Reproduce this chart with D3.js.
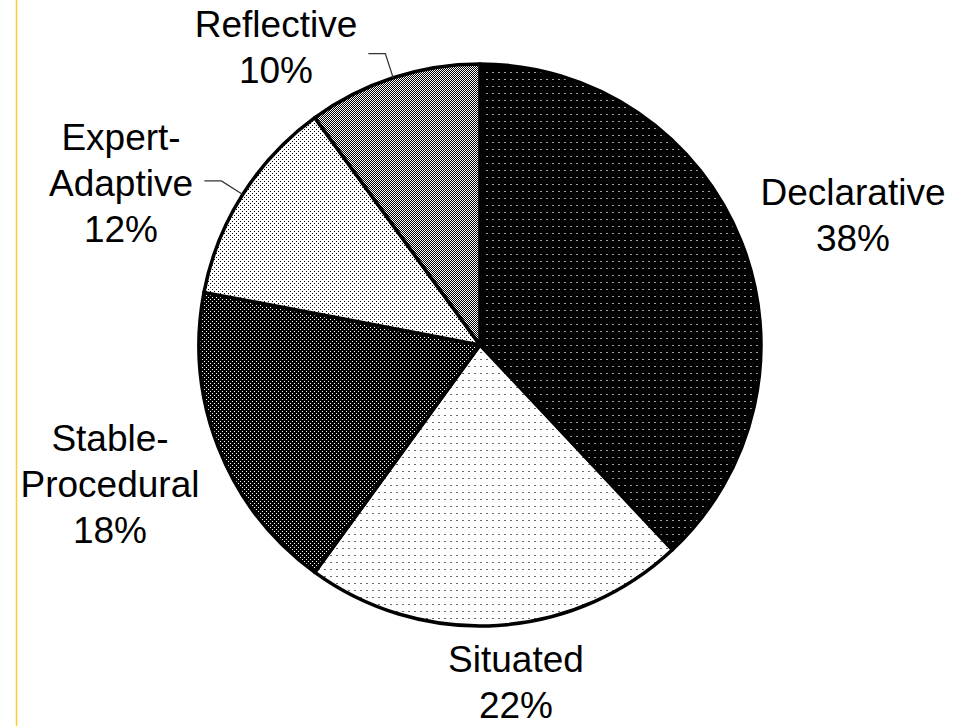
<!DOCTYPE html>
<html>
<head>
<meta charset="utf-8">
<script src="https://cdn.jsdelivr.net/npm/d3@7/dist/d3.min.js"></script>
<style>
  html, body { margin: 0; padding: 0; background: #fff; }
  svg { display: block; }
  text { font-family: "Liberation Sans", Arial, sans-serif; fill: #000; }
</style>
</head>
<body>
<svg id="chart" width="955" height="726"></svg>
<script>
// Knowledge types and their shares (%), clockwise from 12 o'clock
const categories = ["Declarative", "Situated", "Stable-Procedural", "Expert-Adaptive", "Reflective"];
const values = [38, 22, 18, 12, 10];
// How each category name wraps in its label
const labelLines = [["Declarative"], ["Situated"], ["Stable-", "Procedural"], ["Expert-", "Adaptive"], ["Reflective"]];
// Which labels carry a leader line to their slice
const hasLeader = [false, false, false, true, true];

const W = 955, H = 726;
const cx = 480, cy = 345, r = 281;
const fontSize = 37, lineGap = 46;

// Label anchor (first baseline) offsets from the pie centre
const labelOffsets = [[373, -140], [36, 327], [-370, 106], [-359, -195], [-204, -308]];

const svg = d3.select("#chart");
const defs = svg.append("defs");

// Dot / halftone fill patterns, one per slice
function pattern(id, w, h, bg, fg, cells) {
  const p = defs.append("pattern").attr("id", id)
    .attr("patternUnits", "userSpaceOnUse").attr("width", w).attr("height", h);
  p.append("rect").attr("width", w).attr("height", h).attr("fill", bg);
  cells.forEach(([x, y, cw, ch]) => p.append("rect")
    .attr("x", x).attr("y", y).attr("width", cw).attr("height", ch)
    .attr("fill", fg).attr("shape-rendering", "crispEdges"));
  return `url(#${id})`;
}
const fills = [
  pattern("pDecl", 6, 7, "#000", "#a0a0a0", [[0, 0, 2, 1]]),
  pattern("pSit", 6, 7, "#fff", "#6a6a6a", [[0, 0, 2, 1]]),
  pattern("pStab", 4, 4, "#000", "#fff", [[0, 0, 1, 1], [2, 2, 1, 1]]),
  pattern("pExp", 4, 4, "#fff", "#000", [[0, 0, 1, 1], [2, 2, 1, 1]]),
  pattern("pRefl", 2, 2, "#fff", "#000", [[0, 0, 1, 1], [1, 1, 1, 1]])
];

// Thin gold rule down the left side of the page
svg.append("line").attr("x1", 16.5).attr("x2", 16.5).attr("y1", 0).attr("y2", H)
  .attr("stroke", "#FFCC33").attr("stroke-width", 1.5);

const pie = d3.pie().sort(null).value(d => d)(values);
const arc = d3.arc().innerRadius(0).outerRadius(r);

const g = svg.append("g").attr("transform", `translate(${cx},${cy})`);

g.selectAll("path.slice").data(pie).join("path")
  .attr("class", "slice")
  .attr("d", arc)
  .attr("fill", (d, i) => fills[i])
  .attr("stroke", "#000")
  .attr("stroke-width", 3.5)
  .attr("stroke-linejoin", "round");

// Leader lines: from the rim at mid-angle, out to an elbow, then a short horizontal run
pie.forEach((d, i) => {
  if (!hasLeader[i]) return;
  const mid = (d.startAngle + d.endAngle) / 2;
  const [ex, ey] = d3.pointRadial(mid, r);
  const [bx, by] = d3.pointRadial(mid, r * 1.09);
  g.append("polyline")
    .attr("points", [[ex, ey], [bx, by], [bx - 17, by]].map(p => p.join(",")).join(" "))
    .attr("fill", "none").attr("stroke", "#333").attr("stroke-width", 1.2);
});

// Category labels with percentage underneath
pie.forEach((d, i) => {
  const [dx, dy] = labelOffsets[i];
  const lines = labelLines[i].concat([`${values[i]}%`]);
  const t = g.append("text")
    .attr("x", dx).attr("y", dy)
    .attr("text-anchor", "middle")
    .attr("font-size", fontSize);
  lines.forEach((ln, k) => t.append("tspan").attr("x", dx).attr("y", dy + k * lineGap).text(ln));
});
</script>
</body>
</html>
